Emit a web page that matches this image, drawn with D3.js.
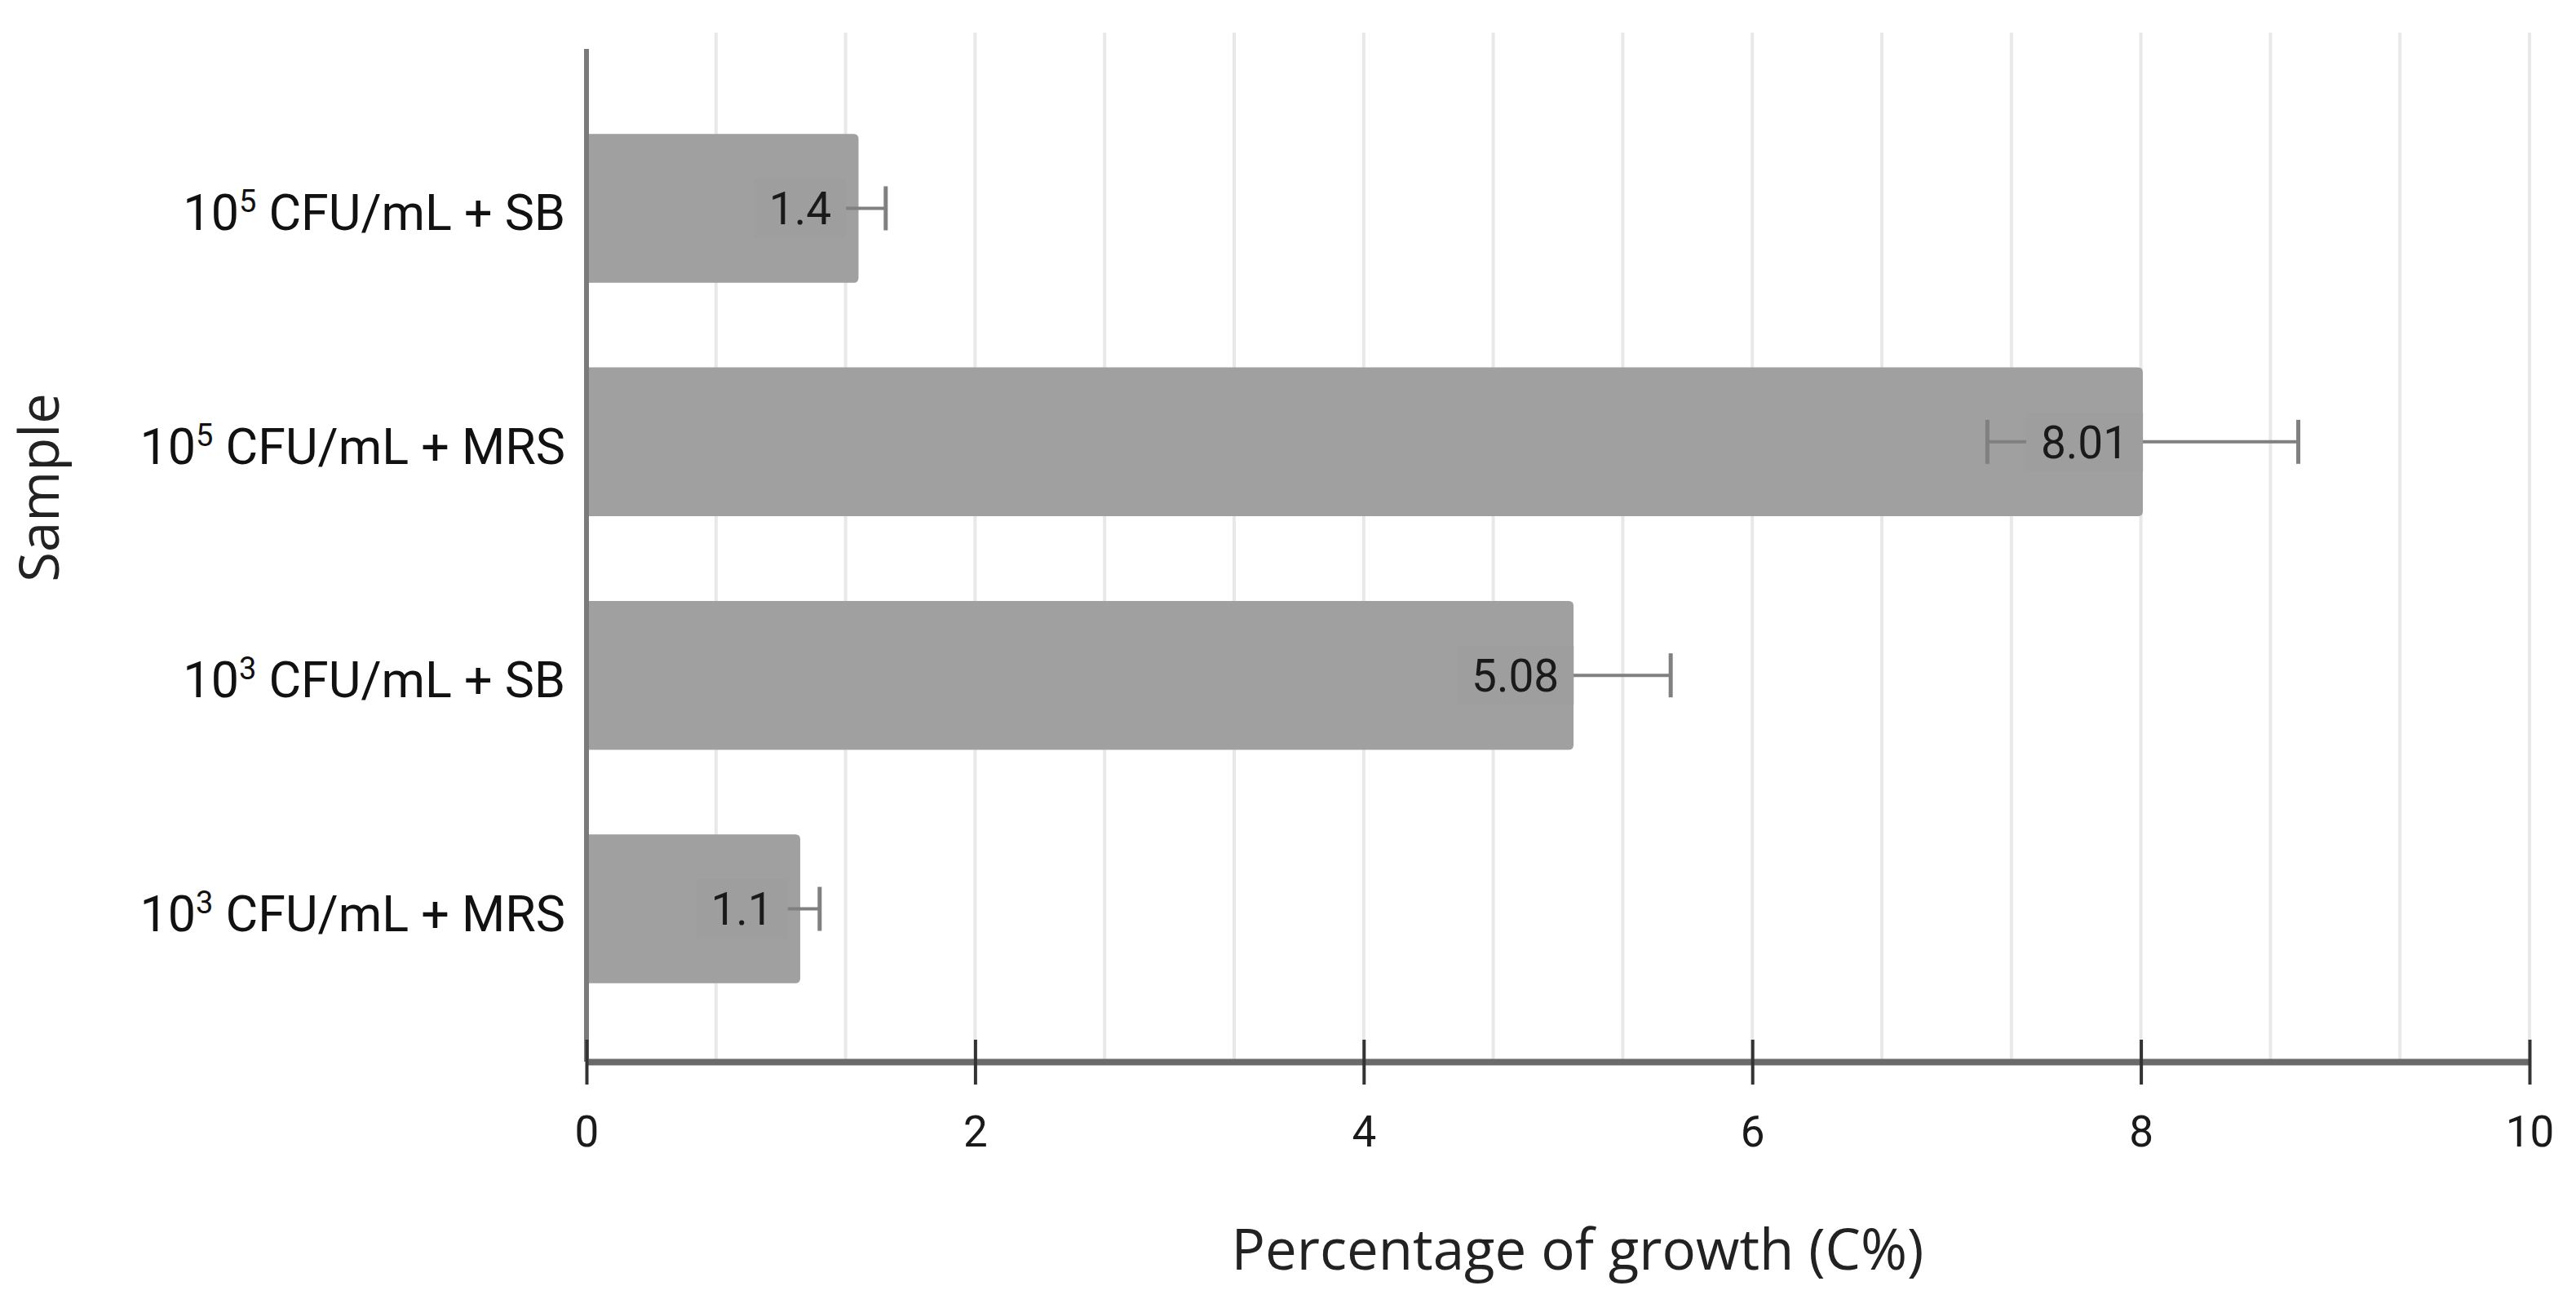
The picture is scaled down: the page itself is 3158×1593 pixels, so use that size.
<!DOCTYPE html>
<html>
<head>
<meta charset="utf-8">
<script src="https://cdn.jsdelivr.net/npm/d3@7"></script>
<style>
  html, body { margin: 0; padding: 0; background: #fff; }
  svg { display: block; }
</style>
</head>
<body>
<svg id="chart" width="3158" height="1593"></svg>
<script>
// ---- data ----
const categoryBase = ["10", "10", "10", "10"];
const categoryExp = ["5", "5", "3", "3"];
const categoryRest = ["CFU/mL + SB", "CFU/mL + MRS", "CFU/mL + SB", "CFU/mL + MRS"];
const categoryIds = ["1e5 SB", "1e5 MRS", "1e3 SB", "1e3 MRS"];
const growthValues = [1.4, 8.01, 5.08, 1.1];
const growthErrors = [0.14, 0.8, 0.5, 0.1];
const valueLabels = ["1.4", "8.01", "5.08", "1.1"];
const xTicks = [0, 2, 4, 6, 8, 10];
const xTickLabels = ["0", "2", "4", "6", "8", "10"];
const gridSubdivisions = 3;
const xTitle = "Percentage of growth (C%)";
const yTitle = "Sample";

// ---- layout ----
const svg = d3.select("#chart");
const x = d3.scaleLinear().domain([0, 10]).range([719, 3101]);
const y = d3.scaleBand().domain(categoryIds).range([60, 1302])
  .paddingInner(0.363).paddingOuter(0.35).align(0.52);
const axisY = 1302;
const gridTop = 40;

const barColor = "#a0a0a0";
const labelBg = "#9e9e9e";
const font = "Roboto, 'Open Sans', sans-serif";

// gridlines (each major interval divided into 3)
const gridVals = [];
for (let i = 0; i < xTicks.length - 1; i++) {
  for (let k = 0; k < gridSubdivisions; k++) {
    gridVals.push(xTicks[i] + (xTicks[i + 1] - xTicks[i]) * k / gridSubdivisions);
  }
}
gridVals.push(xTicks[xTicks.length - 1]);
svg.append("g").selectAll("line").data(gridVals.filter(v => v > 0)).join("line")
  .attr("x1", d => x(d)).attr("x2", d => x(d))
  .attr("y1", gridTop).attr("y2", axisY)
  .attr("stroke", "#e8e8e8").attr("stroke-width", 4);

// bars (rounded right corners)
const r = 6;
const data = categoryIds.map((id, i) => ({
  id, v: growthValues[i], e: growthErrors[i], lab: valueLabels[i]
}));
svg.append("g").selectAll("path").data(data).join("path")
  .attr("d", d => {
    const x0 = x(0), x1 = x(d.v), y0 = y(d.id), h = y.bandwidth();
    return `M${x0},${y0} H${x1 - r} Q${x1},${y0} ${x1},${y0 + r} V${y0 + h - r} Q${x1},${y0 + h} ${x1 - r},${y0 + h} H${x0} Z`;
  })
  .attr("fill", barColor);

// error bars
const capH = 27;
const eg = svg.append("g").attr("stroke", "#808080");
data.forEach(d => {
  const cy = y(d.id) + y.bandwidth() / 2;
  eg.append("line").attr("x1", x(d.v - d.e)).attr("x2", x(d.v + d.e))
    .attr("y1", cy).attr("y2", cy).attr("stroke-width", 4);
  [d.v - d.e, d.v + d.e].forEach(v => {
    eg.append("line").attr("x1", x(v)).attr("x2", x(v))
      .attr("y1", cy - capH).attr("y2", cy + capH).attr("stroke-width", 5);
  });
});

// value labels with background box
const lg = svg.append("g");
data.forEach(d => {
  const cy = y(d.id) + y.bandwidth() / 2;
  const cx = x(d.v - 0.3);
  const t = lg.append("text").attr("x", cx).attr("y", cy).attr("dy", "0.36em")
    .attr("text-anchor", "middle")
    .attr("font-family", font).attr("font-size", 55).attr("fill", "#1a1a1a")
    .text(d.lab);
  const bb = t.node().getBBox();
  lg.insert("rect", "text").attr("x", bb.x - 18).attr("y", cy - 36)
    .attr("width", bb.width + 36).attr("height", 72).attr("fill", labelBg);
});

// y axis line
svg.append("line").attr("x1", x(0)).attr("x2", x(0))
  .attr("y1", 60).attr("y2", axisY)
  .attr("stroke", "#7a7a7a").attr("stroke-width", 6);

// x axis
const xAxis = d3.axisBottom(x).tickValues(xTicks)
  .tickFormat((d, i) => xTickLabels[i]).tickSizeOuter(0).tickSizeInner(28).tickPadding(40);
const xg = svg.append("g").attr("transform", `translate(0,${axisY})`).call(xAxis);
xg.select(".domain").attr("stroke", "#6a6a6a").attr("stroke-width", 8);
xg.selectAll(".tick line").attr("y1", -27).attr("y2", 28)
  .attr("stroke", "#333").attr("stroke-width", 4);
xg.selectAll(".tick text").attr("font-family", font).attr("font-size", 53)
  .attr("fill", "#1a1a1a").attr("y", 104).attr("dy", 0);

// category labels
const cg = svg.append("g");
data.forEach((d, i) => {
  const cy = y(d.id) + y.bandwidth() / 2;
  const t = cg.append("text").attr("x", x(0) - 26).attr("y", cy + 27)
    .attr("text-anchor", "end").attr("font-family", font).attr("font-size", 61)
    .attr("fill", "#111");
  t.append("tspan").text(categoryBase[i]);
  t.append("tspan").attr("dy", -22).attr("font-size", 38).text(categoryExp[i]);
  t.append("tspan").attr("dy", 22).text("\u00a0" + categoryRest[i]);
});

// axis titles
svg.append("text").attr("x", 1934).attr("y", 1557).attr("text-anchor", "middle")
  .attr("font-family", "'Open Sans', sans-serif").attr("font-size", 69).attr("fill", "#222")
  .text(xTitle);
svg.append("text").attr("transform", "translate(72,598) rotate(-90)")
  .attr("text-anchor", "middle")
  .attr("font-family", "'Open Sans', sans-serif").attr("font-size", 67).attr("fill", "#222")
  .text(yTitle);
</script>
</body>
</html>
